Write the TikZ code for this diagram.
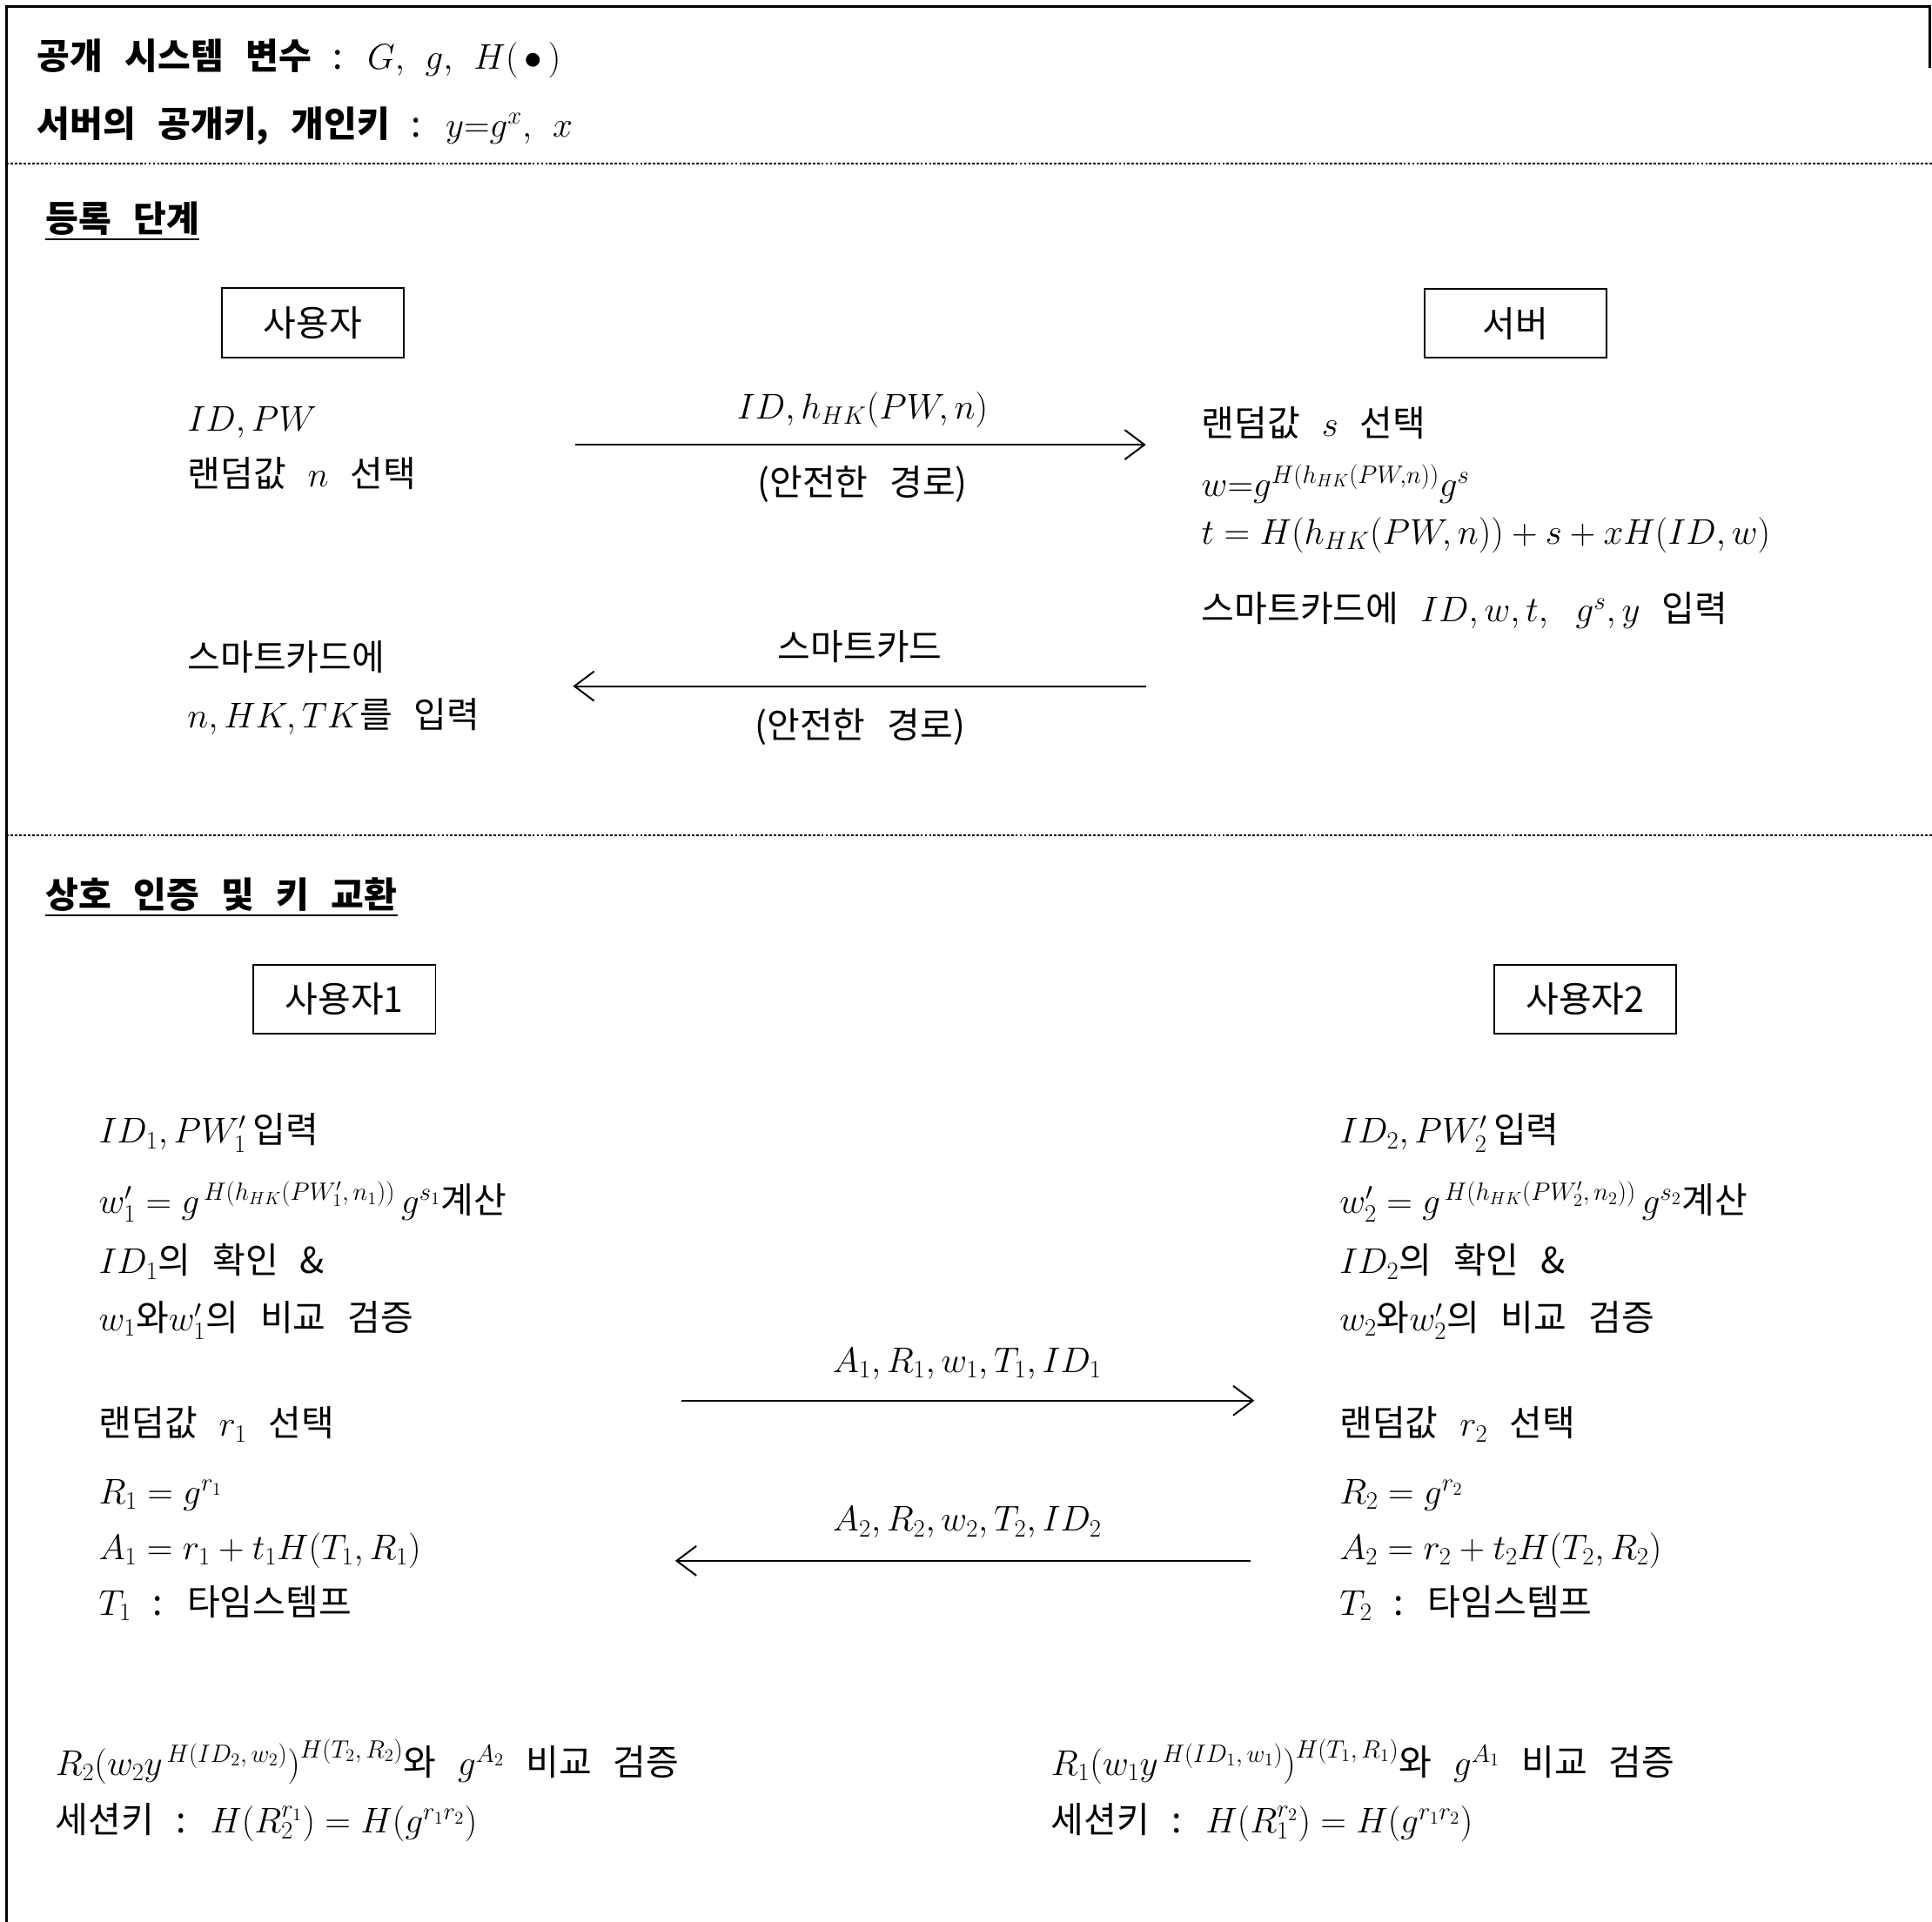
\RequirePackage{fix-cm}
\documentclass[tikz,border=0pt]{standalone}
\usepackage{fontspec}
\newfontfamily\kr{Noto Sans CJK KR}[WordSpace=2.7]
\usetikzlibrary{arrows.meta}
\newcommand\krfs{\fontsize{29}{34}\selectfont\kr}
\begin{document}
\begin{tikzpicture}[x=1pt,y=-1pt,
  txt/.style={anchor=base west,inner sep=0pt,font=\krfs},
  ctxt/.style={anchor=base,inner sep=0pt,font=\krfs},
  actor/.style={draw,line width=1.4pt,minimum width=148pt,minimum height=56pt,inner sep=0pt,font=\krfs},
  msg/.style={line width=1.4pt,-{Straight Barb[length=16pt,width=24pt,line width=1.4pt]}},
  sep/.style={line width=1.6pt,dash pattern=on 2pt off 1.5pt},
  frame/.style={line width=2.2pt},
  uline/.style={line width=1.5pt}]
\useasboundingbox (0,0) rectangle (1568,1560);
% frame
\draw[frame] (1566,55) -- (1566,5) -- (5,5) -- (5,1560);
% header
\node[txt] (h1) at (30,56) {{\bfseries 공개 시스템 변수} : $G,\hspace{12pt}g,\hspace{12pt}H(\,\bullet\,)$};
\node[txt] (h2) at (30,111) {{\bfseries 서버의 공개키, 개인키} : $y{=}g^{x},\hspace{12pt}x$};
\draw[sep] (5,133) -- (1568,133);
% registration
\node[txt] (s1) at (37,188) {\bfseries 등록 단계};
\draw[uline] ([yshift=-6pt]s1.base west) -- ([yshift=-6pt]s1.base east);
\node[actor] (u) at (254,262) {사용자};
\node[actor] (srv) at (1230,262.5) {서버};
\node[txt] (l1) at (152,350) {$ID,PW$};
\node[txt] (l2) at (152,395) {랜덤값 $n$ 선택};
\coordinate (m1s) at (467,361);
\coordinate (m1e) at (930,361);
\draw[msg] (m1s) -- (m1e);
\node[ctxt] (m1t) at (700,340) {$ID,h_{HK}(PW,n)$};
\node[ctxt] (m1b) at (700,402) {(안전한 경로)};
\node[txt] (r1) at (975,354) {랜덤값 $s$ 선택};
\node[txt] (r2) at (975,403) {$w{=}g^{H(h_{HK}(PW,n))}g^{s}$};
\node[txt] (r3) at (975,442) {$t=H(h_{HK}(PW,n))+s+xH(ID,w)$};
\node[txt] (r4) at (975,505) {스마트카드에 $ID,w,t,\ g^{s},y$ 입력};
\coordinate (m2s) at (930,557);
\coordinate (m2e) at (465,557);
\draw[msg] (m2s) -- (m2e);
\node[ctxt] (m2t) at (698,536) {스마트카드};
\node[ctxt] (m2b) at (698,599) {(안전한 경로)};
\node[txt] (l3) at (152,544) {스마트카드에};
\node[txt] (l4) at (152,591) {$n,HK,TK$를 입력};
\draw[sep] (5,678) -- (1568,678);
% authentication
\node[txt] (s2) at (37,737) {\bfseries 상호 인증 및 키 교환};
\draw[uline] ([yshift=-6pt]s2.base west) -- ([yshift=-6pt]s2.base east);
\node[actor] (u1) at (279.5,811) {사용자1};
\node[actor] (u2) at (1286.5,811) {사용자2};
% user 1
\node[txt] (a1) at (80,928) {$ID_1,PW_1'$\,입력};
\node[txt] (a2) at (80,985) {$w_1'=g^{\,H(h_{HK}(PW_1',\,n_1))}\,g^{s_1}$계산};
\node[txt] (a3) at (80,1034) {$ID_1$의 확인 \&};
\node[txt] (a4) at (80,1080) {$w_1$와$w_1'$의 비교 검증};
\node[txt] (a5) at (80,1166) {랜덤값 $r_1$ 선택};
\node[txt] (a6) at (80,1221) {$R_1=g^{r_1}$};
\node[txt] (a7) at (80,1266) {$A_1=r_1+t_1H(T_1,R_1)$};
\node[txt] (a8) at (80,1311) {$T_1$ : 타임스템프};
% user 2
\node[txt] (b1) at (1087,928) {$ID_2,PW_2'$\,입력};
\node[txt] (b2) at (1087,985) {$w_2'=g^{\,H(h_{HK}(PW_2',\,n_2))}\,g^{s_2}$계산};
\node[txt] (b3) at (1087,1034) {$ID_2$의 확인 \&};
\node[txt] (b4) at (1087,1080) {$w_2$와$w_2'$의 비교 검증};
\node[txt] (b5) at (1087,1166) {랜덤값 $r_2$ 선택};
\node[txt] (b6) at (1087,1221) {$R_2=g^{r_2}$};
\node[txt] (b7) at (1087,1266) {$A_2=r_2+t_2H(T_2,R_2)$};
\node[txt] (b8) at (1087,1311) {$T_2$ : 타임스템프};
% messages
\coordinate (m3s) at (553,1137);
\coordinate (m3e) at (1018,1137);
\draw[msg] (m3s) -- (m3e);
\node[ctxt] (m3t) at (785,1114) {$A_1,R_1,w_1,T_1,ID_1$};
\coordinate (m4s) at (1015,1267);
\coordinate (m4e) at (548,1267);
\draw[msg] (m4s) -- (m4e);
\node[ctxt] (m4t) at (785,1243) {$A_2,R_2,w_2,T_2,ID_2$};
% verification
\node[txt] (c1) at (45,1441) {$R_2\bigl(w_2y^{\,H(ID_2,\,w_2)}\bigr)^{H(T_2,\,R_2)}$와 $g^{A_2}$ 비교 검증};
\node[txt] (c2) at (45,1488) {세션키 : $H(R_2^{r_1})=H(g^{r_1r_2})$};
\node[txt] (d1) at (853,1441) {$R_1\bigl(w_1y^{\,H(ID_1,\,w_1)}\bigr)^{H(T_1,\,R_1)}$와 $g^{A_1}$ 비교 검증};
\node[txt] (d2) at (853,1488) {세션키 : $H(R_1^{r_2})=H(g^{r_1r_2})$};
\end{tikzpicture}
\end{document}
